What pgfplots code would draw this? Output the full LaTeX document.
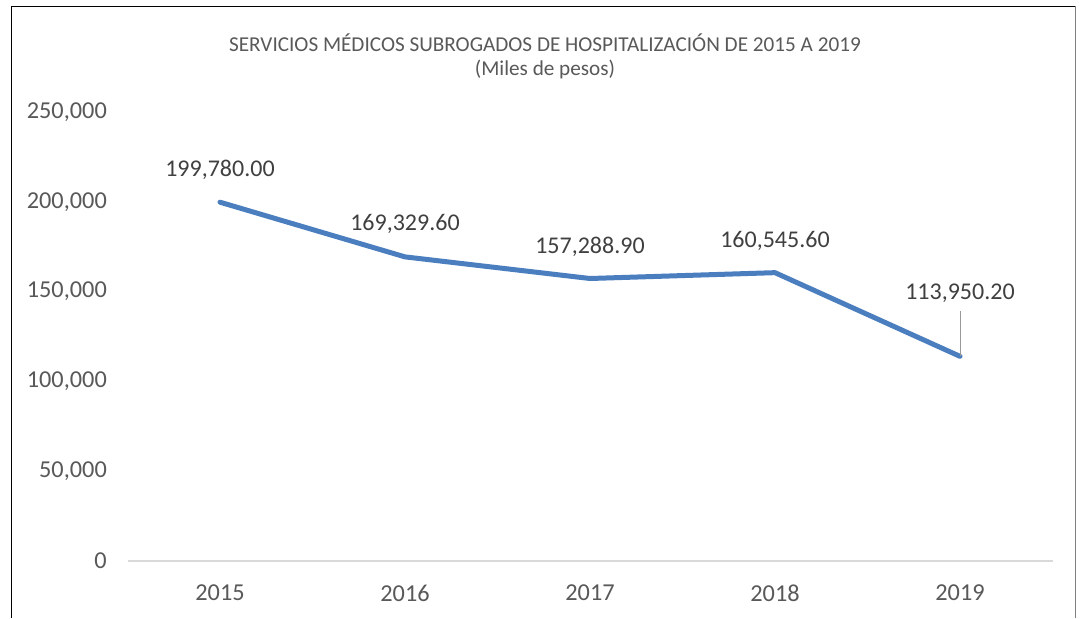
\documentclass[border=0pt]{standalone}
\usepackage{pgfplots}
\pgfplotsset{compat=1.18}
\usepackage{fontspec}
\setmainfont{Carlito}
\definecolor{txtgray}{HTML}{595959}
\definecolor{axgray}{HTML}{D9D9D9}
\definecolor{lineblue}{HTML}{4A7EBF}
\begin{document}
\begin{tikzpicture}[x=1pt,y=1pt]
\fill[white] (0,0) rectangle (1081,618);
\draw[black, line width=1.6pt] (11.5,0) -- (11.5,611.5) -- (1075.5,611.5);
\draw[gray, line width=0.8pt] (1075.5,611.5) -- (1075.5,0);
\node[text=txtgray, font=\fontsize{21.2}{25}\selectfont, align=center] at (545,575) {SERVICIOS MÉDICOS SUBROGADOS DE HOSPITALIZACIÓN DE 2015 A 2019};
\node[text=txtgray, font=\fontsize{21.2}{25}\selectfont, align=center] at (545,549) {(Miles de pesos)};
\begin{axis}[
  at={(127.5pt,57pt)}, anchor=south west,
  scale only axis, width=925pt, height=449pt,
  xmin=-0.5, xmax=4.5, ymin=0, ymax=250000,
  scaled y ticks=false,
  xtick={0,1,2,3,4}, xticklabels={2015,2016,2017,2018,2019},
  ytick={0,50000,100000,150000,200000,250000},
  yticklabels={0,{50,000},{100,000},{150,000},{200,000},{250,000}},
  axis y line*=left, y axis line style={draw=none},
  axis x line*=bottom, x axis line style={draw=axgray, line width=1.2pt},
  major tick length=0pt,
  tick label style={text=txtgray, font=\fontsize{24.3}{28}\selectfont},
  xticklabel style={anchor=center, inner sep=0pt, yshift=-32pt},
  yticklabel style={anchor=east, inner sep=0pt, xshift=-20.5pt},
  clip=false,
]
\addplot[lineblue, line width=5pt, line join=round, line cap=round,
  nodes near coords, point meta=explicit symbolic,
  nodes near coords style={anchor=center, text=black!75, font=\fontsize{24}{28}\selectfont, inner sep=0pt},
  visualization depends on={\thisrow{dy} \as \dy},
  every node near coord/.append style={yshift=\dy pt},
] table[x=x, y=y, meta=lab] {
x y lab dy
0 199780.0 {199,780.00} 32
1 169329.6 {169,329.60} 33
2 157288.9 {157,288.90} 32
3 160545.6 {160,545.60} 32
4 113950.2 {113,950.20} 63
};
\draw[gray!80, line width=1pt] (axis cs:4,113950.2) -- ++(0pt,45pt);
\end{axis}
\end{tikzpicture}
\end{document}
